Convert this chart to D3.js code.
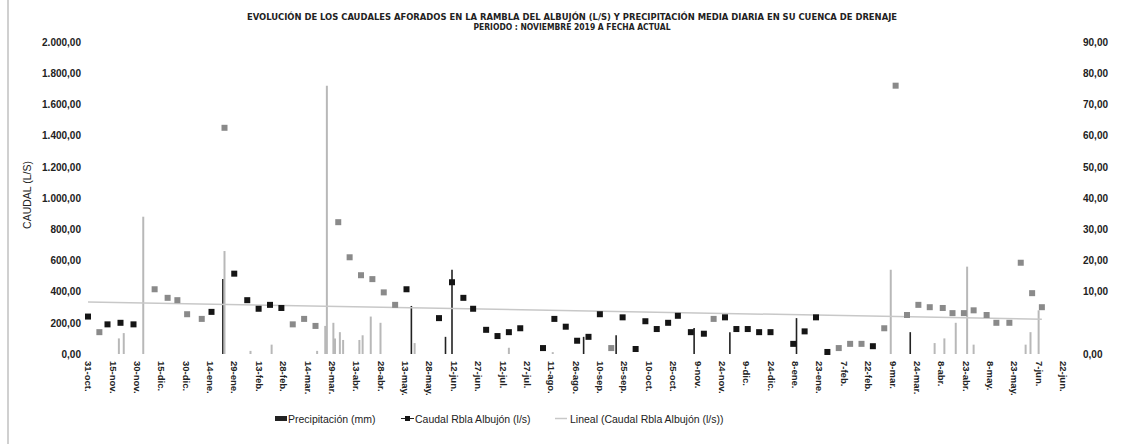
<!DOCTYPE html>
<html>
<head>
<meta charset="utf-8">
<script src="https://cdn.jsdelivr.net/npm/d3@7"></script>
<style>
  body { margin: 0; background: #fff; }
  svg { display: block; font-family: "Liberation Sans", Arial, sans-serif; }
</style>
</head>
<body>
<div id="chart"></div>
<script>
// Caudal Rambla del Albujón + precipitación diaria (nov 2019 - jun 2021)

const flowDates = [
  "2019-10-31","2019-11-07","2019-11-12","2019-11-20","2019-11-28","2019-12-11","2019-12-19","2019-12-25",
  "2019-12-31","2020-01-09","2020-01-15","2020-01-23","2020-01-29","2020-02-06","2020-02-13","2020-02-20",
  "2020-02-27","2020-03-05","2020-03-12","2020-03-19","2020-04-02","2020-04-09","2020-04-16","2020-04-23",
  "2020-04-30","2020-05-07","2020-05-14","2020-06-03","2020-06-11","2020-06-18","2020-06-24","2020-07-02",
  "2020-07-09","2020-07-16","2020-07-23","2020-08-06","2020-08-13","2020-08-20","2020-08-27","2020-09-03",
  "2020-09-10","2020-09-17","2020-09-24","2020-10-02","2020-10-08","2020-10-15","2020-10-22","2020-10-28",
  "2020-11-05","2020-11-13","2020-11-19","2020-11-26","2020-12-03","2020-12-10","2020-12-17","2020-12-24",
  "2021-01-07","2021-01-14","2021-01-21","2021-01-28","2021-02-04","2021-02-11","2021-02-18","2021-02-25",
  "2021-03-04","2021-03-11","2021-03-18","2021-03-25","2021-04-01","2021-04-09","2021-04-15","2021-04-22",
  "2021-04-28","2021-05-06","2021-05-12","2021-05-20","2021-05-27","2021-06-03","2021-06-09"
];
const flowValues = [
  240, 140, 190, 200, 190, 415, 360, 345,
  255, 225, 270, 1450, 515, 345, 290, 315,
  295, 190, 225, 180, 845, 620, 505, 480,
  395, 315, 415, 230, 460, 360, 290, 155,
  115, 140, 165, 38, 225, 175, 85, 110,
  255, 38, 235, 32, 210, 160, 200, 245,
  140, 130, 225, 235, 160, 160, 140, 140,
  65, 145, 235, 13, 38, 65, 65, 50,
  165, 1720, 250, 315, 300, 295, 262, 262,
  280, 250, 200, 200, 585, 390, 300
];
// points printed lighter in the original
const faintFlow = [
  "2019-11-07","2019-12-11","2019-12-19","2019-12-25","2019-12-31","2020-01-09","2020-01-23",
  "2020-03-05","2020-03-12","2020-03-19","2020-04-02","2020-04-09","2020-04-16","2020-04-23",
  "2020-04-30","2020-05-07","2020-09-17","2020-11-19","2021-02-04","2021-02-11","2021-02-18",
  "2021-03-04","2021-03-11","2021-03-18","2021-03-25","2021-04-01","2021-04-09","2021-04-15",
  "2021-04-22","2021-04-28","2021-05-06","2021-05-12","2021-05-20","2021-05-27","2021-06-03","2021-06-09"
];

const precipDates = [
  "2019-11-19","2019-11-22","2019-12-04","2020-01-22","2020-01-23","2020-02-08","2020-02-21","2020-03-20",
  "2020-03-25","2020-03-26","2020-03-30","2020-03-31","2020-04-03","2020-04-05","2020-04-15","2020-04-17",
  "2020-04-22","2020-04-28","2020-05-17","2020-05-19","2020-06-07","2020-06-11","2020-07-16","2020-08-12",
  "2020-08-31","2020-09-20","2020-11-07","2020-11-29","2021-01-09","2021-03-08","2021-03-20","2021-04-04",
  "2021-04-10","2021-04-17","2021-04-24","2021-04-28","2021-05-30","2021-06-02","2021-06-07"
];
const precipValues = [
  5, 6.7, 44, 24, 33, 1, 3, 1,
  9, 86, 10, 5, 7, 4.5, 4.5, 6,
  12, 10, 15.4, 3.5, 5.5, 27, 2, 0.6,
  5.5, 6, 8.3, 7, 11.5, 27, 7, 3.5,
  5, 10, 28, 3, 3, 7, 14
];
const precipDark = [
  "2020-01-22","2020-05-17","2020-06-07","2020-06-11","2020-08-31","2020-09-20",
  "2020-11-07","2020-11-29","2021-01-09","2021-03-20"
];

const monthsEs = ["ene","feb","mar","abr","may","jun","jul","ago","sep","oct","nov","dic"];
const rightTickLabels = ["0,00","","10,00","20,00","30,00","40,00","50,00","60,00","70,00","80,00","90,00"];

const titleLines = [
  "EVOLUCIÓN DE LOS CAUDALES AFORADOS EN LA RAMBLA DEL ALBUJÓN (L/S)  Y PRECIPITACIÓN MEDIA DIARIA EN SU CUENCA DE DRENAJE",
  "PERIODO : NOVIEMBRE 2019 A FECHA ACTUAL"
];

const width = 1124, height = 444;
const parse = d3.timeParse("%Y-%m-%d");
const start = parse("2019-10-31"), end = parse("2021-06-22");

const flow = flowDates.map((d, i) => ({ date: parse(d), value: flowValues[i], faint: faintFlow.includes(d) }));
const precip = precipDates.map((d, i) => ({ date: parse(d), value: precipValues[i], dark: precipDark.includes(d) }));

const x = d3.scaleTime().domain([start, end]).range([88, 1063]);
const yL = d3.scaleLinear().domain([0, 2000]).range([354, 42]);
const yR = d3.scaleLinear().domain([0, 100]).range([354, 42]);

const es = d3.formatLocale({ decimal: ",", thousands: ".", grouping: [3], currency: ["", " €"] });
const fmt = es.format(",.2f");

const svg = d3.select("#chart").append("svg")
  .attr("width", width)
  .attr("height", height);

// scan border on the left
svg.append("line")
  .attr("x1", 8).attr("x2", 8).attr("y1", 0).attr("y2", height)
  .attr("stroke", "#d0d0d0").attr("stroke-width", 2);

// title
svg.append("g").selectAll("text")
  .data(titleLines)
  .enter().append("text")
  .attr("x", 572)
  .attr("y", (d, i) => 20 + i * 10)
  .attr("text-anchor", "middle")
  .attr("font-family", "'Liberation Sans Narrow', 'DejaVu Sans Condensed', sans-serif")
  .attr("font-size", "8.5px")
  .attr("font-weight", "bold")
  .attr("fill", "#222")
  .attr("textLength", (d, i) => i === 0 ? 650 : 197)
  .attr("lengthAdjust", "spacingAndGlyphs")
  .text(d => d);

// left axis
const gL = svg.append("g")
  .attr("transform", "translate(84,0)")
  .call(d3.axisLeft(yL).tickValues(d3.range(0, 2001, 200)).tickFormat(fmt).tickSize(0).tickPadding(3));
gL.select(".domain").remove();
gL.selectAll("text").attr("font-size", "10px").attr("font-weight", "bold").attr("fill", "#222");

svg.append("text")
  .attr("transform", "translate(31,195) rotate(-90)")
  .attr("text-anchor", "middle")
  .attr("font-size", "10.5px")
  .attr("fill", "#222")
  .text("CAUDAL  (L/S)");

// right axis
const gR = svg.append("g")
  .attr("transform", "translate(1080,0)")
  .call(d3.axisRight(yR).tickValues(d3.range(0, 101, 10))
    .tickFormat((d, i) => rightTickLabels[i]).tickSize(0).tickPadding(3));
gR.select(".domain").remove();
gR.selectAll("text").attr("font-size", "10px").attr("font-weight", "bold").attr("fill", "#222");

// x axis
const xTicks = d3.range(41).map(i => d3.timeDay.offset(start, 15 * i));
const gX = svg.append("g")
  .attr("transform", "translate(0,354)")
  .call(d3.axisBottom(x).tickValues(xTicks)
    .tickFormat(d => `${d.getDate()}-${monthsEs[d.getMonth()]}.`).tickSize(0));
gX.select(".domain").remove();
gX.selectAll("text")
  .attr("transform", "rotate(90)")
  .attr("text-anchor", "start")
  .attr("x", 7)
  .attr("y", 0)
  .attr("dy", "0.35em")
  .attr("font-size", "9.5px")
  .attr("font-weight", "bold")
  .attr("fill", "#222");

// precipitation bars
svg.append("g").selectAll("line")
  .data(precip)
  .enter().append("line")
  .attr("x1", d => x(d.date)).attr("x2", d => x(d.date))
  .attr("y1", yR(0)).attr("y2", d => yR(d.value))
  .attr("stroke", d => d.dark ? "#222" : "#b8b8b8")
  .attr("stroke-width", d => d.dark ? 1.6 : 2);

// linear trend of the flow series
const t0 = +start;
const xs = flow.map(d => (+d.date - t0) / 864e5);
const ys = flow.map(d => d.value);
const mx = d3.mean(xs), my = d3.mean(ys);
const slope = d3.sum(xs, (v, i) => (v - mx) * (ys[i] - my)) / d3.sum(xs, v => (v - mx) * (v - mx));
const trendAt = date => my + slope * ((+date - t0) / 864e5 - mx);
const trendDates = [flow[0].date, flow[flow.length - 1].date];

svg.append("line")
  .attr("x1", x(trendDates[0])).attr("y1", yL(trendAt(trendDates[0])))
  .attr("x2", x(trendDates[1])).attr("y2", yL(trendAt(trendDates[1])))
  .attr("stroke", "#c8c8c8")
  .attr("stroke-width", 1.5);

// flow markers
svg.append("g").selectAll("rect")
  .data(flow)
  .enter().append("rect")
  .attr("x", d => x(d.date) - 3)
  .attr("y", d => yL(d.value) - 3)
  .attr("width", 6)
  .attr("height", 6)
  .attr("fill", d => d.faint ? "#8a8a8a" : "#151515");

// legend
const legend = svg.append("g").attr("font-size", "10.5px").attr("fill", "#222");
legend.append("rect").attr("x", 275).attr("y", 416).attr("width", 12).attr("height", 5).attr("fill", "#222");
legend.append("text").attr("x", 288).attr("y", 423).text("Precipitación  (mm)");

legend.append("line").attr("x1", 401).attr("x2", 414).attr("y1", 418.5).attr("y2", 418.5)
  .attr("stroke", "#222").attr("stroke-width", 1);
legend.append("rect").attr("x", 405).attr("y", 416).attr("width", 5).attr("height", 5).attr("fill", "#151515");
legend.append("text").attr("x", 415).attr("y", 423).text("Caudal Rbla Albujón (l/s)");

legend.append("line").attr("x1", 555).attr("x2", 567).attr("y1", 418.5).attr("y2", 418.5)
  .attr("stroke", "#c8c8c8").attr("stroke-width", 1.5);
legend.append("text").attr("x", 570).attr("y", 423).text("Lineal (Caudal Rbla Albujón (l/s))");
</script>
</body>
</html>
